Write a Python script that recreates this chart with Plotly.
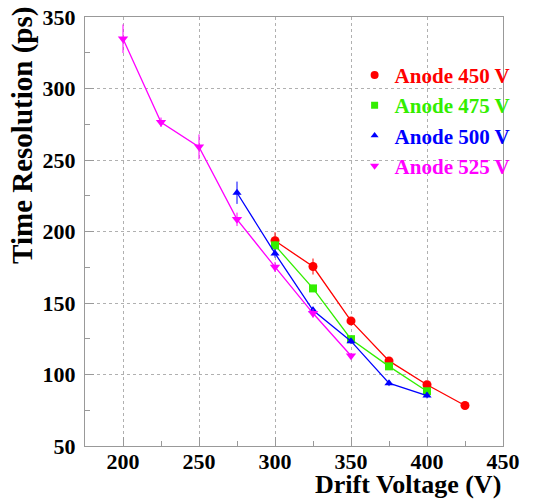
import plotly.graph_objects as go

# Data
v450 = [300, 325, 350, 375, 400, 425]
t450 = [193.5, 175.5, 137.5, 109.5, 92.8, 78.3]
e450 = [6.0, 5.6, 2.5, 2.0, 2.0, 1.5]

v475 = [300, 325, 350, 375, 400]
t475 = [190.3, 160.2, 124.7, 105.7, 88.3]
e475 = [3.0, 2.5, 2.0, 2.0, 2.0]

v500 = [275, 300, 325, 350, 375, 400]
t500 = [227.1, 184.7, 144.9, 123.3, 93.9, 85.3]
e500 = [7.8, 3.0, 2.5, 2.0, 2.0, 2.0]

v525 = [200, 225, 250, 275, 300, 325, 350]
t525 = [334.8, 276.4, 259.2, 208.5, 175.2, 142.8, 113.1]
e525 = [10.0, 3.3, 8.7, 4.7, 3.5, 3.0, 2.0]

labels = ["Anode 450 V", "Anode 475 V", "Anode 500 V", "Anode 525 V"]
colors = ["#ff0000", "#33ee00", "#0000ff", "#ff00ff"]
symbols = ["circle", "square", "triangle-up", "triangle-down"]
msizes = [9, 8, 8, 9]

series = [(v450, t450, e450), (v475, t475, e475), (v500, t500, e500), (v525, t525, e525)]

SERIF = "Liberation Serif, Times New Roman, Times, serif"

fig = go.Figure()
for (x, y, e), lab, c, s, ms in zip(series, labels, colors, symbols, msizes):
    fig.add_trace(go.Scatter(
        x=x, y=y, mode="lines+markers", showlegend=False,
        line=dict(color=c, width=1.3),
        marker=dict(symbol=s, size=ms, color=c),
        error_y=dict(type="data", array=e, color=c, thickness=1, width=0),
    ))
for lab, c, s, ms in zip(labels, colors, symbols, msizes):
    fig.add_trace(go.Scatter(
        x=[None], y=[None], mode="markers",
        marker=dict(symbol=s, size=ms - 1, color=c),
        name=f"<span style='color:{c}'><b>{lab}</b></span>",
    ))

axis_common = dict(
    automargin=False,
    showline=True, linecolor="#999999", linewidth=1, mirror=True,
    ticks="inside", ticklen=9, tickcolor="#999999",
    showgrid=True, gridcolor="#b0b0b0", griddash="dot", gridwidth=1,
    zeroline=False,
    tickfont=dict(family=SERIF, size=22, color="black", weight="bold"),
    minor=dict(ticks="inside", ticklen=5, tickcolor="#999999", dtick=25, showgrid=False),
)

fig.update_layout(
    template="none",
    width=535, height=501,
    margin=dict(l=85, r=32, t=17, b=55, autoexpand=False),
    paper_bgcolor="white", plot_bgcolor="white",
    xaxis=dict(range=[175, 450], dtick=50, tick0=200, ticklabelstandoff=-4, **axis_common),
    yaxis=dict(range=[50, 350], dtick=50, tick0=50, ticklabelstandoff=4, **axis_common),
    legend=dict(x=0.645, y=0.912, xanchor="left", yanchor="top",
                bgcolor="rgba(0,0,0,0)", borderwidth=0,
                font=dict(family=SERIF, size=21),
                itemwidth=30, tracegroupgap=2),
    showlegend=True,
)

fig.add_annotation(
    text="<b>Time Resolution (ps)</b>", textangle=-90,
    xref="paper", yref="paper", x=-0.194, y=1.028, xanchor="left", yanchor="top",
    showarrow=False, font=dict(family=SERIF, size=29, color="black"),
)
fig.add_annotation(
    text="<b>Drift Voltage (V)</b>",
    xref="paper", yref="paper", x=1.0, y=-0.0886, xanchor="right", yanchor="middle",
    showarrow=False, font=dict(family=SERIF, size=26, color="black"),
)

fig.write_html("out.html", config={"displayModeBar": False},
               post_script="document.body.style.margin='0';document.body.style.overflow='hidden';")
